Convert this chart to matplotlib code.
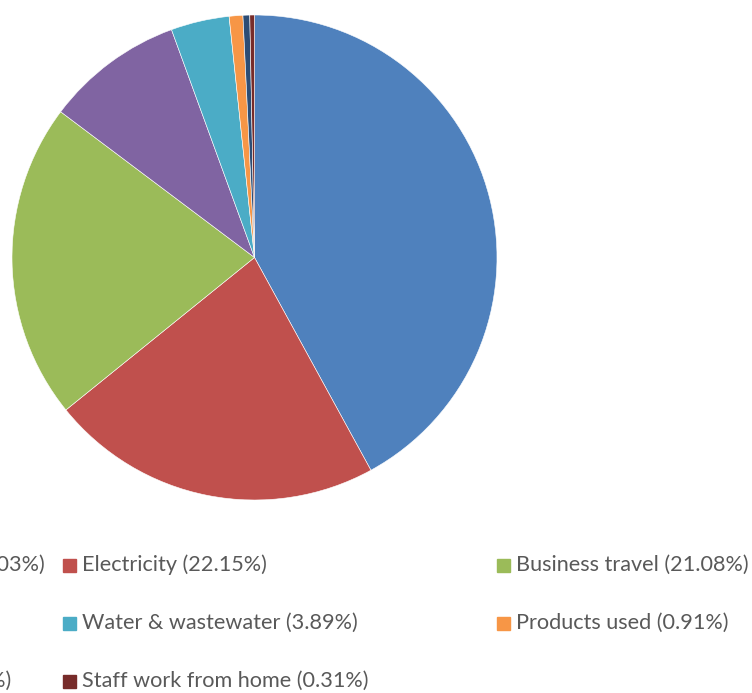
import matplotlib
matplotlib.use("Agg")
import matplotlib.pyplot as plt
from matplotlib.patches import Rectangle

# slices, clockwise from 12 o'clock
labels = ["Gas", "Electricity", "Business travel", "Waste",
          "Water & wastewater", "Products used", "Paper", "Staff work from home"]
shares = [42.03, 22.15, 21.08, 9.18, 3.89, 0.91, 0.45, 0.31]
colors = ["#4F81BD", "#C0504D", "#9BBB59", "#8064A2",
          "#4BACC6", "#F79646", "#2C4D75", "#772C2A"]

W, H = 752, 693
fig = plt.figure(figsize=(W / 100, H / 100), dpi=100, facecolor="white")

# pie axes: circle spans x 12..497, y 15..500 px
ax = fig.add_axes([12 / W, 1 - 500 / H, 485 / W, 485 / H])
ax.pie(shares, colors=colors, startangle=90, counterclock=False,
       radius=1, wedgeprops=dict(linewidth=0.4, edgecolor="white"))
ax.set_xlim(-1, 1)
ax.set_ylim(-1, 1)
ax.set_aspect("equal")
ax.axis("off")

font = ["Lato", "DejaVu Sans"]
txt_col = "#595959"
fs = 15.6

row_y = [565, 623, 681]
col_x = [-373, 63, 497]
# first column is cut off by the frame: only the tail of its labels shows
col1_end = [45, -6, 11]

for i, (lab, val, c) in enumerate(zip(labels, shares, colors)):
    r, k = divmod(i, 3)
    y = 1 - row_y[r] / H
    s = f"{lab} ({val:.2f}%)"
    if k == 0:
        fig.text(col1_end[r] / W, y, s, ha="right", va="center",
                 fontsize=fs, color=txt_col, family=font)
        continue
    x = col_x[k]
    fig.patches.append(Rectangle((x / W, y - 6.5 / H), 13 / W, 13 / H,
                                 transform=fig.transFigure, color=c))
    fig.text((x + 19) / W, y, s, ha="left", va="center",
             fontsize=fs, color=txt_col, family=font)

fig.savefig("out.png", dpi=100, facecolor="white")
